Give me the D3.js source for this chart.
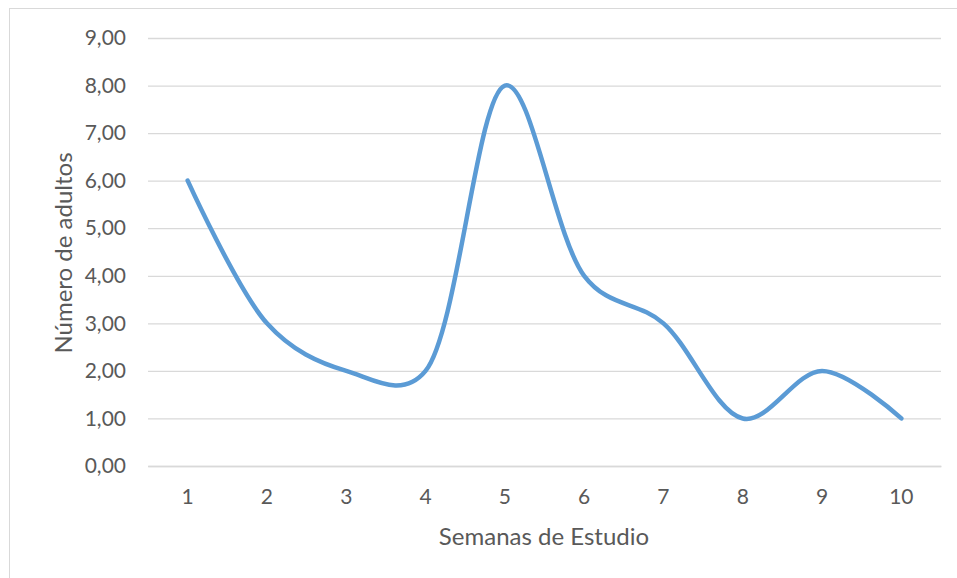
<!DOCTYPE html>
<html><head><meta charset="utf-8">
<script src="https://cdn.jsdelivr.net/npm/d3@7"></script>
<style>body{margin:0;background:#fff}svg{display:block}</style>
</head><body>
<script>
const categories = ["1","2","3","4","5","6","7","8","9","10"];
const values = [6,3,2,2,8,4,3,1,2,1];
const yTicks = [0,1,2,3,4,5,6,7,8,9];

const W=957,H=578;
const svg=d3.select("body").append("svg").attr("width",W).attr("height",H);
svg.append("rect").attr("x",9.5).attr("y",8.5).attr("width",W+10).attr("height",H+10)
  .attr("fill","none").attr("stroke","#d9d9d9").attr("stroke-width",1);
const L=148,R=941,T=38,B=466;
const x=d3.scaleBand().domain(categories).range([L,R]);
const y=d3.scaleLinear().domain([0,9]).range([B,T]);
const font="Lato, 'Open Sans', sans-serif";
const fmt=d=>d3.format(".2f")(d).replace(".",",");

const ga=svg.append("g").attr("transform",`translate(${L},0)`)
  .call(d3.axisLeft(y).tickValues(yTicks).tickSize(-(R-L)).tickPadding(22).tickFormat(fmt));
ga.select(".domain").remove();
ga.selectAll("line").attr("stroke","#d9d9d9").attr("stroke-width",1.3);
ga.selectAll("text").attr("fill","#595959").style("font-family",font).style("font-size","21px");

const gx=svg.append("g").attr("transform",`translate(0,${B})`)
  .call(d3.axisBottom(x).tickSize(0).tickPadding(23));
gx.select(".domain").attr("stroke","#d9d9d9").attr("stroke-width",1.3);
gx.selectAll("text").attr("fill","#595959").style("font-family",font).style("font-size","21px");

const line=d3.line().x((d,i)=>x(categories[i])+x.bandwidth()/2).y(d=>y(d)).curve(d3.curveCatmullRom.alpha(0.25));
svg.append("path").datum(values).attr("d",line).attr("fill","none")
  .attr("stroke","#5b9bd5").attr("stroke-width",4.5).attr("stroke-linecap","round").attr("stroke-linejoin","round");

svg.append("text").attr("x",544).attr("y",545).attr("text-anchor","middle")
  .attr("fill","#595959").style("font-family",font).style("font-size","24px").text("Semanas de Estudio");
svg.append("text").attr("transform",`translate(72,${(T+B)/2+1}) rotate(-90)`).attr("text-anchor","middle")
  .attr("fill","#595959").style("font-family",font).style("font-size","24px").text("Número de adultos");
</script>
</body></html>
